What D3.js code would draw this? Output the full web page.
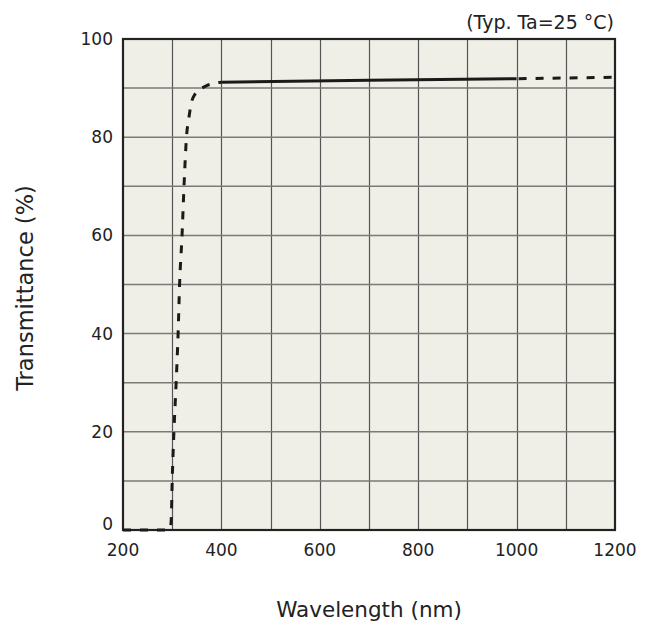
<!DOCTYPE html>
<html>
<head>
<meta charset="utf-8">
<script src="https://cdn.jsdelivr.net/npm/d3@7"></script>
<style>
body { margin: 0; background: #fff; }
text { font-family: "DejaVu Sans", Verdana, sans-serif; fill: #222; }
</style>
</head>
<body>
<svg id="chart"></svg>
<script>
// curve (wavelength nm, transmittance %)
var uvWave = [200, 290, 296, 298, 300, 303.5, 308, 312, 315, 320, 324, 329, 334, 339, 346, 355, 370, 387, 400];
var uvTrans = [0, 0, 0.4, 2, 10, 20, 30, 40, 50, 60, 70, 80, 84, 87, 88.7, 89.6, 90.5, 91, 91.2];
var visWave = [400, 700, 1000];
var visTrans = [91.2, 91.6, 91.9];
var irWave = [1000, 1200];
var irTrans = [91.9, 92.2];

var xTicks = [200, 400, 600, 800, 1000, 1200];
var yTicks = [0, 20, 40, 60, 80, 100];

var width = 650;
var height = 628;
var pLeft = 123, pRight = 615, pTop = 39, pBottom = 530;

var svg = d3.select('#chart')
    .attr('width', width)
    .attr('height', height);

var xScale = d3.scaleLinear()
    .domain([200, 1200])
    .range([pLeft, pRight]);

var yScale = d3.scaleLinear()
    .domain([0, 100])
    .range([pBottom, pTop]);

svg.append('rect')
    .attr('x', pLeft)
    .attr('y', pTop)
    .attr('width', pRight - pLeft)
    .attr('height', pBottom - pTop)
    .attr('fill', '#f0efe7');

// grid every 100 nm / 10 %
svg.append('g')
    .selectAll('line')
    .data(d3.range(300, 1200, 100))
    .enter()
    .append('line')
    .attr('x1', d => Math.round(xScale(d)) + 0.5)
    .attr('x2', d => Math.round(xScale(d)) + 0.5)
    .attr('y1', pTop)
    .attr('y2', pBottom)
    .attr('stroke', '#555')
    .attr('stroke-width', 1.2);

svg.append('g')
    .selectAll('line')
    .data(d3.range(10, 100, 10))
    .enter()
    .append('line')
    .attr('x1', pLeft)
    .attr('x2', pRight)
    .attr('y1', d => yScale(d))
    .attr('y2', d => yScale(d))
    .attr('stroke', '#7a7a76')
    .attr('stroke-width', 1.5);

svg.append('rect')
    .attr('x', pLeft)
    .attr('y', pTop)
    .attr('width', pRight - pLeft)
    .attr('height', pBottom - pTop)
    .attr('fill', 'none')
    .attr('stroke', '#222')
    .attr('stroke-width', 2.2);

function pts(w, t) {
    return w.map((d, i) => [d, t[i]]);
}

var line = d3.line()
    .x(d => xScale(d[0]))
    .y(d => yScale(d[1]))
    .curve(d3.curveMonotoneX);

svg.append('path')
    .datum(pts(uvWave, uvTrans))
    .attr('d', line)
    .attr('fill', 'none')
    .attr('stroke', '#1a1a1a')
    .attr('stroke-width', 3)
    .attr('stroke-dasharray', '8,9');

svg.append('path')
    .datum(pts(visWave, visTrans))
    .attr('d', line)
    .attr('fill', 'none')
    .attr('stroke', '#1a1a1a')
    .attr('stroke-width', 3);

svg.append('path')
    .datum(pts(irWave, irTrans))
    .attr('d', line)
    .attr('fill', 'none')
    .attr('stroke', '#1a1a1a')
    .attr('stroke-width', 3)
    .attr('stroke-dasharray', '8,9')
    .attr('stroke-dashoffset', -2);

// tick labels
svg.append('g')
    .selectAll('text')
    .data(xTicks)
    .enter()
    .append('text')
    .attr('x', d => xScale(d))
    .attr('y', 556)
    .attr('text-anchor', 'middle')
    .attr('font-size', 17)
    .text(d => d);

svg.append('g')
    .selectAll('text')
    .data(yTicks)
    .enter()
    .append('text')
    .attr('x', 113)
    .attr('y', d => d === 0 ? pBottom : yScale(d) + 6)
    .attr('text-anchor', 'end')
    .attr('font-size', 17)
    .text(d => d);

svg.append('text')
    .attr('x', 369)
    .attr('y', 617)
    .attr('text-anchor', 'middle')
    .attr('font-size', 21.5)
    .text('Wavelength (nm)');

svg.append('text')
    .attr('transform', 'translate(33,288) rotate(-90)')
    .attr('text-anchor', 'middle')
    .attr('font-size', 22.5)
    .text('Transmittance (%)');

svg.append('text')
    .attr('x', 614)
    .attr('y', 29)
    .attr('text-anchor', 'end')
    .attr('font-size', 19)
    .text('(Typ. Ta=25 °C)');
</script>
</body>
</html>
